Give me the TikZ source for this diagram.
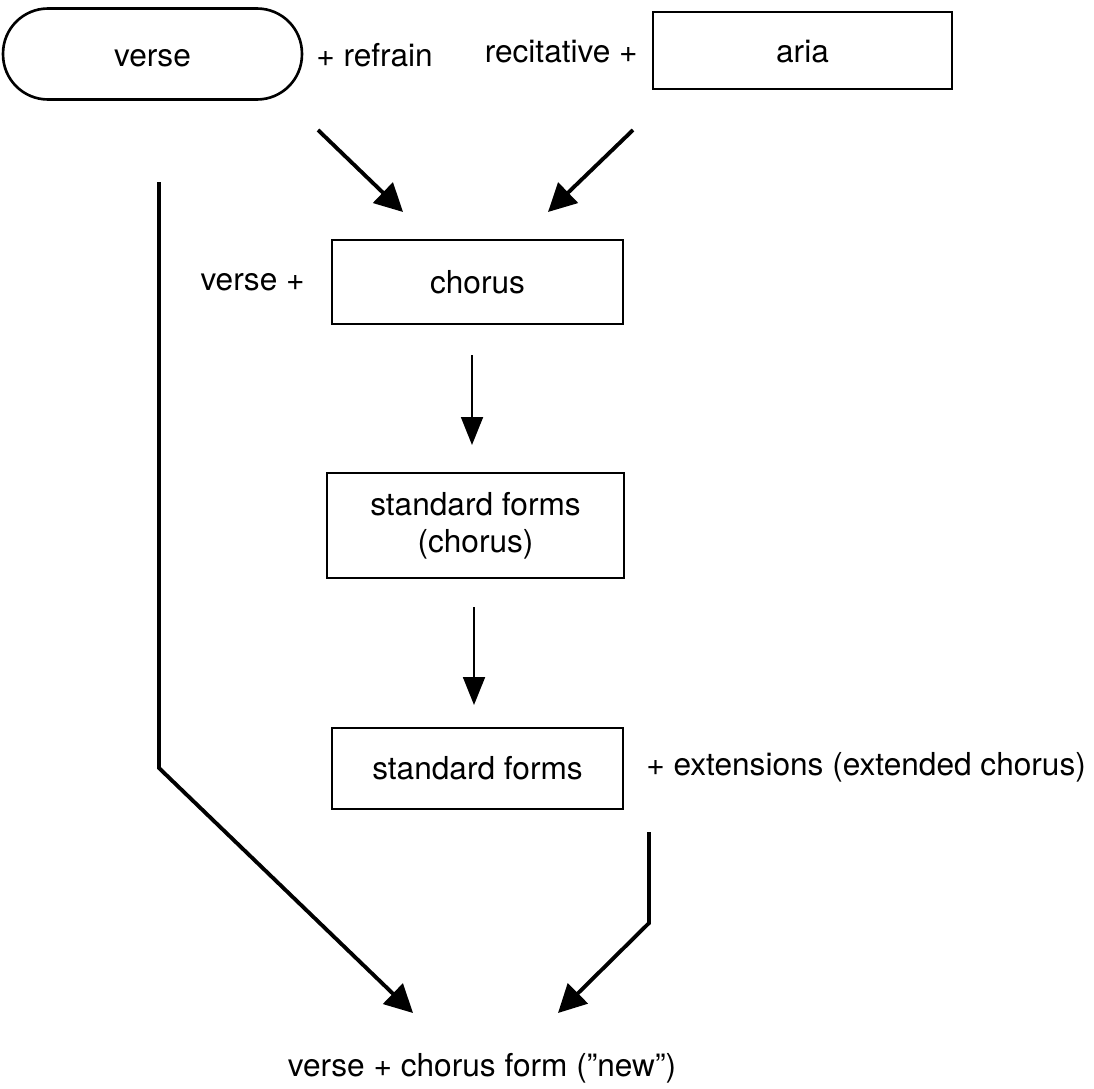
\documentclass[tikz,border=0pt]{standalone}
\usepackage{fontspec}
\setmainfont{TeX Gyre Heros}
\usetikzlibrary{arrows.meta}
\begin{document}
\begin{tikzpicture}[
    x=0.02cm, y=-0.02cm,
    every node/.style={color=black, font=\fontsize{18}{21}\selectfont},
    form box/.style={draw, line width=1.5pt, align=center, inner sep=0pt},
    heavy arrow/.style={line width=2.2pt, -{Triangle[length=0.56cm,width=0.56cm]}},
    light arrow/.style={line width=1.1pt, -{Triangle[length=0.56cm,width=0.44cm]}},
    ]
    \useasboundingbox (0,0) rectangle (1094,1088);

    % boxes
    \node[form box, rounded corners=0.9cm, minimum width=5.98cm, minimum height=1.82cm,
        text height=14pt, text depth=0pt]
        (verse) at (152.5,54) {verse};
    \node[form box, minimum width=5.98cm, minimum height=1.54cm,
        text height=14pt, text depth=0pt]
        (aria) at (802.5,50.5) {aria};
    \node[form box, minimum width=5.82cm, minimum height=1.68cm]
        (chorus) at (477.5,282) {chorus};
    \node[form box, minimum width=5.94cm, minimum height=2.1cm]
        (stdchorus) at (475.5,525.5) {standard forms\\(chorus)};
    \node[form box, minimum width=5.82cm, minimum height=1.62cm]
        (std) at (477.5,768.5) {standard forms};
    % side labels
    \node[anchor=base west, inner sep=0pt] (refrain) at (316,67) {+ refrain};
    \node[anchor=base east, inner sep=0pt] (recit) at (638,63) {recitative +};
    \node[anchor=base east, inner sep=0pt] (versep) at (305,290) {verse +};
    \node[anchor=base west, inner sep=0pt] (ext) at (646,775) {+ extensions (extended chorus)};
    \node[anchor=base, inner sep=0pt] (new) at (482,1076) {verse + chorus form (”new”)};

    % arrow end points
    \coordinate (a1s) at (318,130); \coordinate (a1e) at (403,212);
    \coordinate (a2s) at (633,130); \coordinate (a2e) at (548,212);
    \coordinate (v1s) at (472,355); \coordinate (v1e) at (472,445);
    \coordinate (v2s) at (474,607); \coordinate (v2e) at (474,705);
    \coordinate (l1) at (159,182); \coordinate (l2) at (159,768); \coordinate (l3) at (413,1013);
    \coordinate (r1) at (649,832); \coordinate (r2) at (649,923); \coordinate (r3) at (558,1013);

    % arrows
    \draw[heavy arrow] (a1s) -- (a1e);
    \draw[heavy arrow] (a2s) -- (a2e);
    \draw[light arrow] (v1s) -- (v1e);
    \draw[light arrow] (v2s) -- (v2e);
    \draw[heavy arrow] (l1) -- (l2) -- (l3);
    \draw[heavy arrow] (r1) -- (r2) -- (r3);
\end{tikzpicture}
\end{document}
